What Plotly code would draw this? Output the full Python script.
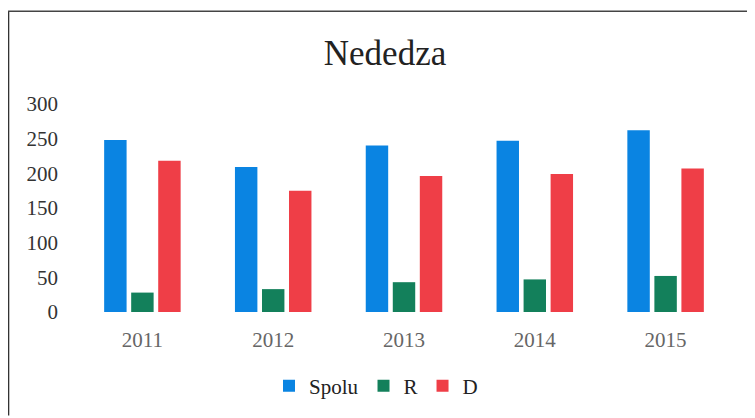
import plotly.graph_objects as go

years = ["2011", "2012", "2013", "2014", "2015"]
spolu = [248, 209, 240, 247, 262]
r_vals = [28, 33, 43, 47, 52]
d_vals = [218, 175, 196, 199, 207]
series_names = ["Spolu", "R", "D"]
colors = ["#0a84e2", "#13805b", "#ef3e47"]
y_ticks = [0, 50, 100, 150, 200, 250, 300]

fig = go.Figure()
for name, vals, col in zip(series_names, [spolu, r_vals, d_vals], colors):
    fig.add_trace(go.Bar(x=years, y=vals, name=name, marker=dict(color=col, line=dict(width=0))))

# page has an 8px body margin; figure coordinates below are page coords minus 8
OFF = 8
W, H = 755, 418
L = 77 - OFF
T = 104 - OFF
R = W - (731.5 - OFF)
B = H - (312.3 - OFF)
pw = W - L - R
ph = H - T - B

def px_x(x):
    return (x - OFF - L) / pw

def px_y(y):
    return (H - B - (y - OFF)) / ph

shapes = [
    dict(type="line", xref="paper", yref="paper", x0=px_x(8.5), x1=px_x(8.5), y0=px_y(11), y1=px_y(416), line=dict(color="#333333", width=1.5)),
    dict(type="line", xref="paper", yref="paper", x0=px_x(8), x1=px_x(752), y0=px_y(11), y1=px_y(11), line=dict(color="#444444", width=1.5)),
    dict(type="line", xref="paper", yref="paper", x0=px_x(752), x1=px_x(752), y0=px_y(11), y1=px_y(416), line=dict(color="#cccccc", width=1)),
]

fig.update_layout(
    width=W, height=H,
    margin=dict(l=L, r=R, t=T, b=B),
    paper_bgcolor="white", plot_bgcolor="white",
    barmode="group", bargap=0.38, bargroupgap=0.17,
    title=dict(text="Nededza", x=(385 - OFF) / W, xanchor="center", y=1 - (53 - OFF) / H, yanchor="middle",
               font=dict(family="Liberation Serif", size=35, color="#222222")),
    font=dict(family="Liberation Serif"),
    xaxis=dict(showgrid=False, showline=False, zeroline=False, ticks="",
               tickfont=dict(size=21, color="#666666"), ticklabelstandoff=13),
    yaxis=dict(range=[0, 300], tickvals=y_ticks, showgrid=False, zeroline=False, showline=False,
               ticks="", tickfont=dict(size=21, color="#333333"), ticklabelstandoff=18),
    legend=dict(orientation="h", xref="container", yref="container", x=(376 - OFF) / W, xanchor="center",
                y=1 - (386 - OFF) / H, yanchor="middle", font=dict(size=21, color="#222222"),
                itemwidth=30, traceorder="normal", tracegroupgap=0),
    shapes=shapes,
)

fig.write_html("out.html")
